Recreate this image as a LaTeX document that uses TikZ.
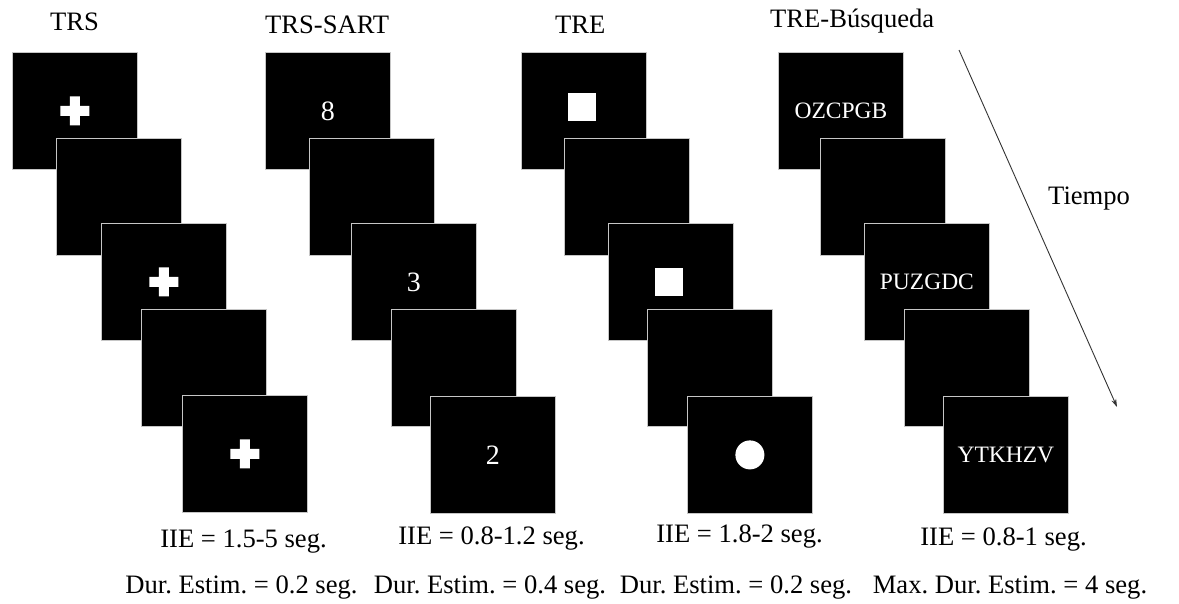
\documentclass[tikz,border=0pt]{standalone}
\usepackage{fontspec}
\setmainfont{Liberation Serif}
\usetikzlibrary{arrows.meta}
\frenchspacing
\newcommand\stimplus[1]{\fill[white] ([shift={(-14.5,-5)}]#1.center) rectangle ([shift={(14.5,5)}]#1.center) ([shift={(-5,-14.5)}]#1.center) rectangle ([shift={(5,14.5)}]#1.center);}
\begin{document}
\begin{tikzpicture}[x=1pt,y=-1pt,
  scr/.style={draw=gray!45, line width=0.8pt, fill=black, minimum width=125pt, minimum height=117pt, inner sep=0pt, text=white, anchor=north west},
  digit/.style={font=\fontsize{28}{30}\selectfont},
  letters/.style={font=\fontsize{23.5}{28}\selectfont},
  lbl/.style={font=\fontsize{26.6}{30}\selectfont, inner sep=0pt, text=black},
  ttl/.style={lbl, anchor=base west},
  info/.style={lbl, anchor=base}
]
\useasboundingbox (0,0) rectangle (1179,603);

% titles
\node[ttl] (t1) at (50,30) {TRS};
\node[ttl] (t2) at (265,33) {TRS-SART};
\node[ttl] (t3) at (555,33) {TRE};
\node[ttl] (t4) at (770,27) {TRE-Búsqueda};

% column 1: TRS
\node[scr] (c11) at (12,52) {};
\stimplus{c11}
\node[scr] (c12) at (56,138) {};
\node[scr] (c13) at (101,223) {};
\stimplus{c13}
\node[scr] (c14) at (141,309) {};
\node[scr] (c15) at (182,395) {};
\stimplus{c15}

% column 2: TRS-SART
\node[scr,digit] (c21) at (265,52) {8};
\node[scr] (c22) at (309,138) {};
\node[scr,digit] (c23) at (351,223) {3};
\node[scr] (c24) at (391,309) {};
\node[scr,digit] (c25) at (430,396) {2};

% column 3: TRE
\node[scr] (c31) at (521,52) {};
\node[fill=white, minimum size=28pt, inner sep=0pt] (w1) at ([shift={(-1.5,-3.5)}]c31.center) {};
\node[scr] (c32) at (564,138) {};
\node[scr] (c33) at (608,223) {};
\node[fill=white, minimum size=28pt, inner sep=0pt] (w3) at ([shift={(-2,0)}]c33.center) {};
\node[scr] (c34) at (647,309) {};
\node[scr] (c35) at (687,396) {};
\node[circle, fill=white, minimum size=29pt, inner sep=0pt] (dot) at (c35.center) {};

% column 4: TRE-Busqueda
\node[scr,letters] (c41) at (778,52) {OZCPGB};
\node[scr] (c42) at (820,138) {};
\node[scr,letters] (c43) at (864,223) {PUZGDC};
\node[scr] (c44) at (904,309) {};
\node[scr,letters] (c45) at (943,396) {YTKHZV};

% time arrow
\coordinate (a0) at (959,50);
\coordinate (a1) at (1117,407);
\draw[black!80, line width=0.9pt, -{Stealth[length=8pt,width=5pt]}] (a0) -- (a1);
\node[ttl] (tiempo) at (1048,204) {Tiempo};

% bottom info
\node[info] (i1) at (243.5,547) {IIE = 1.5-5 seg.};
\node[info] (i2) at (491.5,544) {IIE = 0.8-1.2 seg.};
\node[info] (i3) at (739.5,542) {IIE = 1.8-2 seg.};
\node[info] (i4) at (1003.5,545) {IIE = 0.8-1 seg.};
\node[info] (d1) at (241.5,593) {Dur. Estim. = 0.2 seg.};
\node[info] (d2) at (490,593) {Dur. Estim. = 0.4 seg.};
\node[info] (d3) at (736,593) {Dur. Estim. = 0.2 seg.};
\node[info] (d4) at (1010,593) {Max. Dur. Estim. = 4 seg.};
\end{tikzpicture}
\end{document}
